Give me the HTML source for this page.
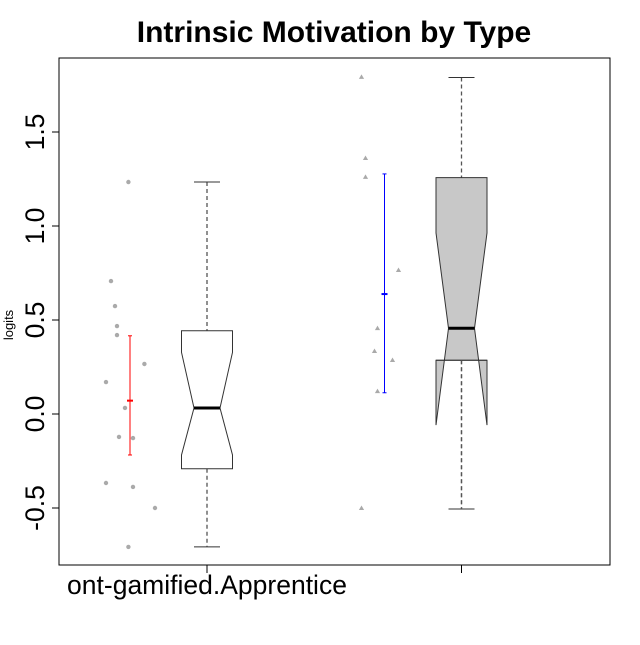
<!DOCTYPE html>
<html><head><meta charset="utf-8"><style>
html,body{margin:0;padding:0;background:#fff;}
svg text{font-family:"Liberation Sans",Arial,sans-serif;}
</style></head><body>
<svg id="chart" width="640" height="640" viewBox="0 0 640 640" xmlns="http://www.w3.org/2000/svg">
<rect width="640" height="640" fill="#fff"/>
<text x="334" y="42" text-anchor="middle" font-size="30" font-weight="bold">Intrinsic Motivation by Type</text>
<rect x="59" y="58" width="551" height="507" fill="none" stroke="#000" stroke-width="1"/>
<text transform="translate(13,325) rotate(-90)" text-anchor="middle" font-size="13">logits</text>
<g id="yaxis"></g>
<g id="xaxis"></g>
<g id="marks"></g>
</svg>
<script>
const categories = ["ont-gamified.Apprentice", ""];
const yTicks = [-0.5, 0.0, 0.5, 1.0, 1.5];
const yTickLabels = ["-0.5", "0.0", "0.5", "1.0", "1.5"];
const pointsG1 = [1.234, 0.707, 0.574, 0.468, 0.42, 0.266, 0.170, 0.032, -0.122, -0.128, -0.367, -0.388, -0.5, -0.707];
const jitterG1 = [-0.08, -0.95, -0.75, -0.65, -0.65, 0.72, -1.2, -0.25, -0.55, 0.15, -1.2, 0.15, 1.25, -0.08];
const pointsG2 = [1.793, 1.362, 1.261, 0.766, 0.457, 0.335, 0.287, 0.122, -0.5];
const jitterG2 = [-1.15, -0.95, -0.95, 0.7, -0.35, -0.5, 0.4, -0.35, -1.15];
const whiskerLow = [-0.707, -0.505];
const boxLow = [-0.291, 0.286];
const medians = [0.032, 0.456];
const boxHigh = [0.443, 1.257];
const whiskerHigh = [1.234, 1.79];
const notchLow = [-0.218, -0.059];
const notchHigh = [0.328, 0.963];
const errLow = [-0.218, 0.113];
const errMean = [0.071, 0.638];
const errHigh = [0.416, 1.277];
const boxFill = ["#ffffff", "#c8c8c8"];
const errColor = ["#ff0000", "#0000ff"];

const NS = "http://www.w3.org/2000/svg";
function y(v){ return 414 - 188 * v; }
function xBox(i){ return 207 + i * 254.5; }
function xErr(i){ return xBox(i) - 77; }
function mk(tag, attrs, parent){
  const e = document.createElementNS(NS, tag);
  for (const k in attrs) e.setAttribute(k, attrs[k]);
  parent.appendChild(e);
  return e;
}
const ya = document.getElementById('yaxis');
yTicks.forEach((t, i) => {
  const l = mk('line', {x1: 52, x2: 59, y1: y(t), y2: y(t), stroke: '#000'}, ya);
  
  
  const tx = mk('text', {transform: `translate(44,${y(t)}) rotate(-90)`, 'text-anchor': 'middle', 'font-size': 26.5}, ya);
  tx.textContent = yTickLabels[i];
  
  
});
const xa = document.getElementById('xaxis');
categories.forEach((c, i) => {
  const l = mk('line', {x1: xBox(i), x2: xBox(i), y1: 565, y2: 573, stroke: '#000'}, xa);
  
  
  const tx = mk('text', {x: xBox(i), y: 594, 'text-anchor': 'middle', 'font-size': 26.5}, xa);
  tx.textContent = c;
  
  
});
const m = document.getElementById('marks');
pointsG1.forEach((v, i) => {
  const c = mk('circle', {cx: xErr(0) + jitterG1[i] * 20, cy: y(v), r: 2.2, fill: '#aaaaaa'}, m);
  
  
});
pointsG2.forEach((v, i) => {
  const cx = xErr(1) + jitterG2[i] * 20, cy = y(v);
  const p = mk('polygon', {points: `${cx},${cy-2.5} ${cx-2.6},${cy+2} ${cx+2.6},${cy+2}`, fill: '#aaaaaa'}, m);
  
  
});
[0, 1].forEach(i => {
  const cx = xBox(i), hw = 25.5, nw = 13;
  const g = mk('g', {}, m);
  
  
  mk('line', {x1: cx, x2: cx, y1: y(whiskerHigh[i]), y2: y(boxHigh[i]), stroke: '#555', 'stroke-width': 1.3, 'stroke-dasharray': '4,3'}, g);
  mk('line', {x1: cx, x2: cx, y1: y(boxLow[i]), y2: y(whiskerLow[i]), stroke: '#555', 'stroke-width': 1.3, 'stroke-dasharray': '4,3'}, g);
  mk('line', {x1: cx - 13, x2: cx + 13, y1: y(whiskerHigh[i]), y2: y(whiskerHigh[i]), stroke: '#333'}, g);
  mk('line', {x1: cx - 13, x2: cx + 13, y1: y(whiskerLow[i]), y2: y(whiskerLow[i]), stroke: '#333'}, g);
  const pts = [
    [cx - hw, y(boxHigh[i])], [cx + hw, y(boxHigh[i])], [cx + hw, y(notchHigh[i])],
    [cx + nw, y(medians[i])], [cx + hw, y(notchLow[i])], [cx + hw, y(boxLow[i])],
    [cx - hw, y(boxLow[i])], [cx - hw, y(notchLow[i])], [cx - nw, y(medians[i])],
    [cx - hw, y(notchHigh[i])]
  ].map(p => p.join(',')).join(' ');
  mk('polygon', {points: pts, fill: boxFill[i], stroke: '#333', 'stroke-width': 1}, g);
  if (y(notchLow[i]) > y(boxLow[i])) {
    mk('line', {x1: cx - hw, x2: cx + hw, y1: y(boxLow[i]), y2: y(boxLow[i]), stroke: '#333'}, g);
    mk('line', {x1: cx, x2: cx, y1: y(boxLow[i]), y2: y(whiskerLow[i]), stroke: '#555', 'stroke-width': 1.3, 'stroke-dasharray': '4,3'}, g);
  }
  mk('line', {x1: cx - nw, x2: cx + nw, y1: y(medians[i]), y2: y(medians[i]), stroke: '#000', 'stroke-width': 3}, g);
  const ex = xErr(i);
  const e = mk('g', {stroke: errColor[i]}, m);
  
  
  mk('line', {x1: ex, x2: ex, y1: y(errHigh[i]), y2: y(errLow[i])}, e);
  mk('line', {x1: ex - 2, x2: ex + 2, y1: y(errHigh[i]), y2: y(errHigh[i])}, e);
  mk('line', {x1: ex - 2, x2: ex + 2, y1: y(errLow[i]), y2: y(errLow[i])}, e);
  mk('line', {x1: ex - 3, x2: ex + 3, y1: y(errMean[i]), y2: y(errMean[i]), 'stroke-width': 2}, e);
});
</script>
</body></html>
